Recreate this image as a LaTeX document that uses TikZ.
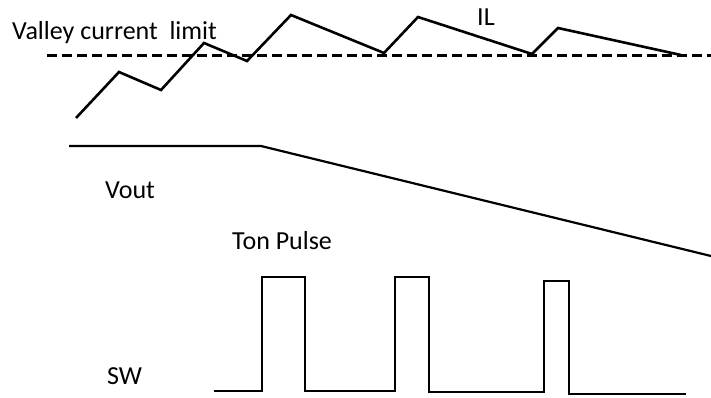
\documentclass[tikz,border=0pt]{standalone}
\usepackage{fontspec}
\setmainfont{Carlito}
\usepackage{tikz}
\usetikzlibrary{positioning, calc}

\begin{document}
\begin{tikzpicture}[x=1pt, y=-1pt,
    wavelbl/.style={anchor=base west, inner sep=0pt,
      font=\fontsize{26}{31}\selectfont},
    ilwave/.style={line width=2.6pt, line join=miter},
    limitline/.style={line width=2.6pt, dash pattern=on 10pt off 5pt},
    voutwave/.style={line width=2.2pt},
    swwave/.style={line width=1.9pt, line join=miter}]
  \useasboundingbox (0,0) rectangle (711,397);

  % labels
  \node[wavelbl] (vcl) at (12,39) {Valley current\hspace{0.45em}limit};
  \node[wavelbl] (il) at (477,25) {IL};
  \node[wavelbl] (vout) at (105,198) {Vout};
  \node[wavelbl] (ton) at (232,249) {Ton Pulse};
  \node[wavelbl] (sw) at (107,384) {SW};

  % inductor current and valley limit
  \draw[limitline] (47,55.5) -- (711,55.5);
  \draw[ilwave] (76,118) -- (119,72) -- (161,90) -- (204,43) -- (247,61)
    -- (291,15) -- (384,53) -- (418,17) -- (532,54) -- (558,28) -- (681,55);

  % output voltage
  \draw[voutwave] (69,146) -- (261,146) -- (711,256);

  % switch node
  \draw[swwave] (214,391) -- (262,391) -- (262,277) -- (305,277) -- (305,391)
    -- (395,391) -- (395,277) -- (429,277) -- (429,392) -- (544,392)
    -- (544,281) -- (569,281) -- (569,394) -- (686,394);
\end{tikzpicture}
\end{document}
